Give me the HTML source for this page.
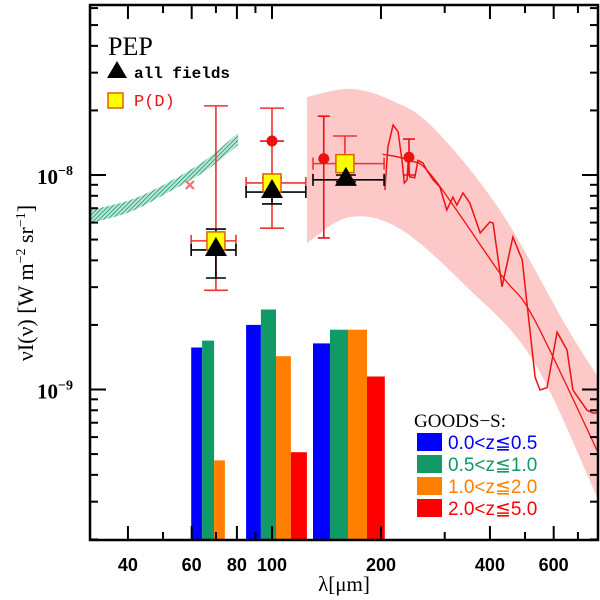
<!DOCTYPE html>
<html><head><meta charset="utf-8">
<style>
html,body{margin:0;padding:0;background:#fff;}
svg{display:block;font-family:"Liberation Sans",sans-serif;}
</style></head>
<body>
<svg id="chart" width="600" height="600" viewBox="0 0 600 600" xmlns="http://www.w3.org/2000/svg">
<defs>
<pattern id="hatch" width="3" height="3" patternUnits="userSpaceOnUse" patternTransform="rotate(45)">
<rect width="3" height="3" fill="#bfe6d6"/><line x1="0" y1="0" x2="0" y2="3" stroke="#119966" stroke-width="1.6"/>
</pattern>
<clipPath id="plotclip"><rect x="90" y="5" width="508" height="535"/></clipPath>
</defs>
<g id="plot" clip-path="url(#plotclip)"></g>
<g id="axes"></g>
</svg>
<script>
// ---- data ----
const barGroups = ["70um", "100um", "160um"];
const barEdges70 = [59.8, 64.1, 69.2, 74.1];
const barEdges100 = [84.8, 93.2, 102.6, 112.8, 124.9];
const barEdges160 = [129.8, 144.6, 162.1, 183, 205];
const barVals70 = [1.57e-9, 1.69e-9, 4.67e-10];
const barVals100 = [2.0e-9, 2.36e-9, 1.43e-9, 5.1e-10];
const barVals160 = [1.64e-9, 1.9e-9, 1.9e-9, 1.15e-9];
const zBins = ["0.0<z≦0.5", "0.5<z≦1.0", "1.0<z≦2.0", "2.0<z≦5.0"];
const zColors = ["#0000ff", "#119966", "#ff7f00", "#ff0000"];

const bandLam = [124.9, 164, 212, 278, 426, 652, 805];
const bandHi = [2.31e-8, 2.52e-8, 2.24e-8, 1.67e-8, 6.87e-9, 1.95e-9, 1.11e-9];
const bandLoLam = [124.9, 164, 226, 346, 526, 791, 805];
const bandLo = [4.82e-9, 6.37e-9, 5.6e-9, 3.0e-9, 1.37e-9, 3.15e-10, 2.9e-10];

const modelLam = [202, 240, 278, 426, 526, 791, 805];
const modelVal = [1.25e-8, 1.17e-8, 9.8e-9, 3.49e-9, 2.18e-9, 5.2e-10, 4.9e-10];

const firasLam = [205,209,216,223,229,232,236,238,240,248,253,261,268,279,291,304,316,324,337,352,376,400,408,432,463,491,533,550,575,613,653,678,741,771,791,805];
const firasVal = [8.51e-9,1.35e-8,1.71e-8,1.59e-8,1.14e-8,9.18e-9,9.48e-9,1.17e-8,9.8e-9,9.7e-9,1.17e-8,1.14e-8,1.05e-8,9.48e-9,8.79e-9,6.87e-9,7.89e-9,7.24e-9,8.24e-9,7.4e-9,5.37e-9,6.04e-9,5.97e-9,3.01e-9,5.14e-9,4.02e-9,1.14e-9,9.95e-10,1.02e-9,1.85e-9,1.53e-9,9.95e-10,8.02e-10,7.77e-10,7.77e-10,7.77e-10];

const greenLam = [31.4, 40.5, 51.3, 65.3, 80.6];
const greenHi = [6.87e-9, 7.64e-9, 9.18e-9, 1.17e-8, 1.57e-8];
const greenLo = [5.97e-9, 6.72e-9, 8.24e-9, 1.04e-8, 1.38e-8];

const triLam = [70, 100, 160];
const triVal = [4.57e-9, 8.51e-9, 9.7e-9];
const triXlo = [59.8, 84.8, 129.8];
const triXhi = [79.5, 124, 204];
const triYlo = [3.31e-9, 7.33e-9, 9.3e-9];
const triYhi = [5.6e-9, 9.7e-9, 1.0e-8];

const sqLam = [70, 100, 159];
const sqVal = [4.93e-9, 9.18e-9, 1.13e-8];
const sqXlo = [59.8, 84.8, 129.8];
const sqXhi = [79.5, 124, 204];
const sqYlo = [2.9e-9, 5.65e-9, 1.13e-8];
const sqYhi = [2.1e-8, 2.05e-8, 1.52e-8];

const dotLam = [100, 139, 239];
const dotVal = [1.44e-8, 1.19e-8, 1.21e-8];
const dotYlo = [1.44e-8, 5.09e-9, 1.0e-8];
const dotYhi = [1.44e-8, 1.88e-8, 1.47e-8];

const crossLam = [59.3];
const crossVal = [8.98e-9];

const xTickMajor = [40, 60, 80, 100, 200, 400, 600];
const xTickMinor = [50, 70, 90, 300, 500, 700];
const yTickMajor = [1e-9, 1e-8];
const yTickLabels = ["9", "8"];

// ---- scales ----
const X0 = 90, X1 = 598, Y0 = 540, Y1 = 5;
function sx(l){ return 272 + 362*(Math.log10(l) - 2); }
function sy(v){ return 175 - 214.5*(Math.log10(v) + 8); }

const NS = "http://www.w3.org/2000/svg";
const plot = document.getElementById('plot');
const axes = document.getElementById('axes');
function mk(tag, attrs, parent){
  const e = document.createElementNS(NS, tag);
  for (const k in attrs) e.setAttribute(k, attrs[k]);
  parent.appendChild(e);
  return e;
}
// smooth path through points (Catmull-Rom)
function smooth(pts, start){
  let d = start ? "M" + pts[0][0].toFixed(1) + "," + pts[0][1].toFixed(1) : "L" + pts[0][0].toFixed(1) + "," + pts[0][1].toFixed(1);
  for (let i = 0; i < pts.length-1; i++){
    const p0 = pts[Math.max(0,i-1)], p1 = pts[i], p2 = pts[i+1], p3 = pts[Math.min(pts.length-1,i+2)];
    const c1x = p1[0] + (p2[0]-p0[0])/6, c1y = p1[1] + (p2[1]-p0[1])/6;
    const c2x = p2[0] - (p3[0]-p1[0])/6, c2y = p2[1] - (p3[1]-p1[1])/6;
    d += `C${c1x.toFixed(1)},${c1y.toFixed(1)} ${c2x.toFixed(1)},${c2y.toFixed(1)} ${p2[0].toFixed(1)},${p2[1].toFixed(1)}`;
  }
  return d;
}

// pink band
{
  const up = bandLam.map((l,i)=>[sx(l), sy(bandHi[i])]);
  const lo = bandLoLam.map((l,i)=>[sx(l), sy(bandLo[i])]).reverse();
  const d = smooth(up, true) + smooth(lo, false) + "Z";
  const p = mk('path', {d: d, fill: "#fcc8c8", stroke: "none"}, plot);
  
  
}
// green band
{
  const up = greenLam.map((l,i)=>[sx(l), sy(greenHi[i])]);
  const lo = greenLam.map((l,i)=>[sx(l), sy(greenLo[i])]).reverse();
  const d = smooth(up, true) + smooth(lo, false) + "Z";
  const p = mk('path', {d: d, fill: "url(#hatch)", stroke: "none"}, plot);
  
  
}
// bars
function drawBars(edges, vals, grp){
  vals.forEach((v,i)=>{
    const x = sx(edges[i]), w = sx(edges[i+1]) - x;
    const r = mk('rect', {x: x.toFixed(1), y: sy(v).toFixed(1), width: w.toFixed(1), height: (Y0 - sy(v)).toFixed(1), fill: zColors[i]}, plot);
    
    
  });
}
drawBars(barEdges70, barVals70, barGroups[0]);
drawBars(barEdges100, barVals100, barGroups[1]);
drawBars(barEdges160, barVals160, barGroups[2]);

// lines
{
  const pts = modelLam.map((l,i)=>[sx(l), sy(modelVal[i])]);
  const p = mk('path', {d: smooth(pts, true), fill: "none", stroke: "#ee1111", "stroke-width": 1.3}, plot);
  
  
}
{
  let d = "";
  firasLam.forEach((l,i)=>{ d += (i?"L":"M") + sx(l).toFixed(1) + "," + sy(firasVal[i]).toFixed(1); });
  const p = mk('path', {d: d, fill: "none", stroke: "#ee1111", "stroke-width": 1.5}, plot);
  
  
}

// cross
crossLam.forEach((l,i)=>{
  const x = sx(l), y = sy(crossVal[i]);
  const g = mk('path', {d: `M${x-4},${y-4}L${x+4},${y+4}M${x-4},${y+4}L${x+4},${y-4}`, stroke: "#f07070", "stroke-width": 2.2}, plot);
  
  
});

function errbar(x1,x2,y,col,name,cap){
  const p = mk('path', {d:`M${x1},${y}H${x2}M${x1},${y-cap}V${y+cap}M${x2},${y-cap}V${y+cap}`, stroke: col, "stroke-width": 1.6, fill:"none"}, plot);
  
  
}
function verr(x,y1,y2,col,name,cap){
  const p = mk('path', {d:`M${x},${y1}V${y2}M${x-cap},${y1}H${x+cap}M${x-cap},${y2}H${x+cap}`, stroke: col, "stroke-width": 1.6, fill:"none"}, plot);
  
  
}
dotLam.forEach((l,i)=>{
  const x = sx(l);
  if (dotYlo[i] !== dotYhi[i]) verr(x, sy(dotYhi[i]), sy(dotYlo[i]), "#ee1111", 'dot-errorbar', 6);
  else { const p = mk('path', {d:`M${x-12},${sy(dotVal[i])}H${x+12}`, stroke:"#ee1111","stroke-width":1.6}, plot);
      }
});
sqLam.forEach((l,i)=>{
  const x = sx(l);
  errbar(sx(sqXlo[i]), sx(sqXhi[i]), sy(sqVal[i]), "#ee3333", 'pd-x-errorbar', 6);
  verr(x, sy(sqYhi[i]), sy(sqYlo[i]), "#ee3333", 'pd-y-errorbar', 12);
});
triLam.forEach((l,i)=>{
  const x = sx(l);
  errbar(sx(triXlo[i]), sx(triXhi[i]), sy(triVal[i]) + 2, "#000", 'all-fields-x-errorbar', 6);
  verr(x, sy(triYhi[i]), sy(triYlo[i]), "#000", 'all-fields-y-errorbar', 10);
});
dotLam.forEach((l,i)=>{
  const c = mk('circle', {cx: sx(l), cy: sy(dotVal[i]), r: 5.5, fill: "#ee1111"}, plot);
  
  
});
sqLam.forEach((l,i)=>{
  const x = sx(l), y = sy(sqVal[i]);
  const r = mk('rect', {x: x-9, y: y-9, width: 18, height: 18, fill: "#ffff00", stroke: "#e06000", "stroke-width": 1.5}, plot);
  
  
});
triLam.forEach((l,i)=>{
  const x = sx(l), y = sy(triVal[i]);
  const t = mk('path', {d:`M${x},${y-11}L${x+11},${y+8}L${x-11},${y+8}Z`, fill:"#000"}, plot);
  
  
});

// axes frame
{
  const f = mk('rect', {x: X0, y: Y1, width: X1-X0, height: Y0-Y1, fill: "none", stroke: "#000", "stroke-width": 2.5}, axes);
  
  
}
function tick(x1,y1,x2,y2,name){
  const t = mk('line', {x1,y1,x2,y2, stroke:"#000","stroke-width":2}, axes);
  
  
}
function txt(x,y,s,attrs,name){
  const t = mk('text', Object.assign({x,y}, attrs), axes);
  t.textContent = s;
  
  
  return t;
}
xTickMajor.forEach(l=>{
  const x = sx(l);
  tick(x, Y0, x, Y0-14, 'x-major-tick');
  tick(x, Y1, x, Y1+14, 'x-major-tick-top');
  txt(x, 571, String(l), {"text-anchor":"middle","font-size":18,"font-weight":"bold"}, 'x-tick-label');
});
xTickMinor.forEach(l=>{
  const x = sx(l);
  tick(x, Y0, x, Y0-8, 'x-minor-tick');
  tick(x, Y1, x, Y1+8, 'x-minor-tick-top');
});
for (let dec = -10; dec <= -8; dec++){
  for (let m = 1; m <= 9; m++){
    const v = m * Math.pow(10, dec);
    const y = sy(v);
    if (y < Y1 || y > Y0) continue;
    const len = m === 1 ? 16 : 8;
    tick(X0, y, X0+len, y, 'y-tick');
    tick(X1, y, X1-len, y, 'y-tick-right');
  }
}
yTickMajor.forEach((v,i)=>{
  const t = txt(37, sy(v)+9, "10", {"font-size":21,"font-weight":"bold","font-family":"Liberation Serif, serif"}, 'y-tick-label');
  const ts = document.createElementNS(NS,'tspan');
  ts.setAttribute('dy','-9'); ts.setAttribute('font-size','14');
  ts.textContent = "−" + yTickLabels[i];
  t.appendChild(ts);
});
txt(344, 591, "λ[μm]", {"text-anchor":"middle","font-size":21,"font-family":"Liberation Serif, serif"}, 'x-axis-title');
{
  const t = txt(0, 0, "νI(ν) [W m", {"text-anchor":"middle","font-size":22,"font-family":"Liberation Serif, serif","transform":"translate(33,283) rotate(-90)"}, 'y-axis-title');
  const a = document.createElementNS(NS,'tspan'); a.setAttribute('dy','-8'); a.setAttribute('font-size','14'); a.textContent="−2"; t.appendChild(a);
  const b = document.createElementNS(NS,'tspan'); b.setAttribute('dy','8'); b.textContent=" sr"; t.appendChild(b);
  const c = document.createElementNS(NS,'tspan'); c.setAttribute('dy','-8'); c.setAttribute('font-size','14'); c.textContent="−1"; t.appendChild(c);
  const d = document.createElementNS(NS,'tspan'); d.setAttribute('dy','8'); d.textContent="]"; t.appendChild(d);
}

// legends
txt(108, 55, "PEP", {"font-size":26,"font-family":"Liberation Serif, serif"}, 'legend-title-pep');
{
  const t = mk('path', {d:"M117,61L127,78L107,78Z", fill:"#000"}, axes);
   
  txt(134, 78, "all fields", {"font-size":16,"font-weight":"bold","font-family":"Liberation Mono, monospace"}, 'legend-all-fields');
  const r = mk('rect', {x:108, y:93, width:15, height:15, fill:"#ffff00", stroke:"#e06000","stroke-width":1.5}, axes);
   
  txt(134, 106, "P(D)", {"font-size":17,"font-family":"Liberation Mono, monospace","fill":"#ee1111"}, 'legend-pd');
}
txt(414, 427, "GOODS−S:", {"font-size":19,"font-family":"Liberation Serif, serif"}, 'legend-goods-s-title');
zBins.forEach((s,i)=>{
  const y = 433 + i*22;
  const r = mk('rect', {x:417, y:y, width:25, height:18, fill:zColors[i]}, axes);
   
  txt(448, y+16, s, {"font-size":19,"fill":zColors[i]}, 'legend-entry-z' + i);
});
</script>
</body></html>
